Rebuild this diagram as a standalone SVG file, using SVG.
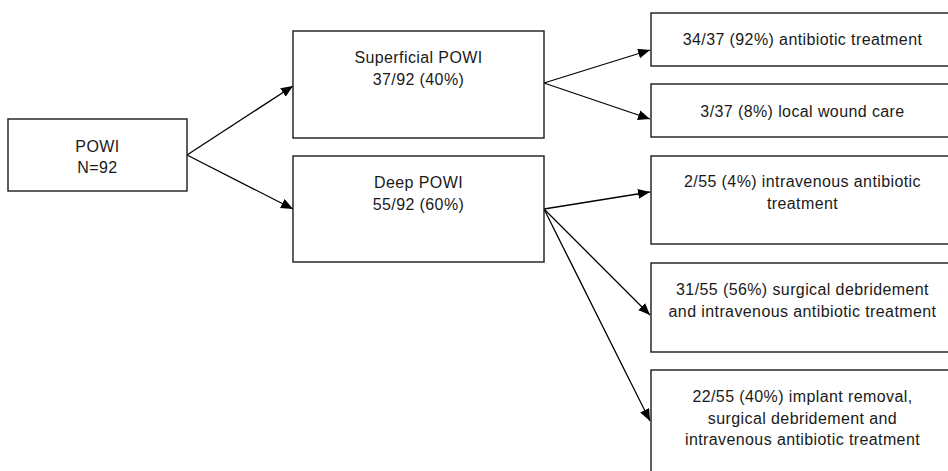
<svg xmlns="http://www.w3.org/2000/svg" width="948" height="471" viewBox="0 0 948 471">
<defs>
<marker id="arr" markerUnits="userSpaceOnUse" markerWidth="13" markerHeight="11" refX="12" refY="5" orient="auto">
<path d="M0,0 L12,5 L0,10 z" fill="#000"/>
</marker>
<style>
.box{fill:#fff;stroke:#1a1a1a;stroke-width:1.4}
.t{font-family:"Liberation Sans",Arial,sans-serif;font-size:16px;letter-spacing:0.4px;fill:#1a1a1a;text-anchor:middle}
.c{stroke:#000;stroke-width:1.3;fill:none;marker-end:url(#arr)}
</style>
</defs>
<rect width="948" height="471" fill="#fff"/>
<g id="connectors">
<line class="c" x1="187" y1="155" x2="293" y2="86"/>
<line class="c" x1="187" y1="155" x2="293" y2="209"/>
<line class="c" x1="544" y1="83" x2="650" y2="50"/>
<line class="c" x1="544" y1="83" x2="650" y2="119"/>
<line class="c" x1="544" y1="209" x2="650" y2="192"/>
<line class="c" x1="544" y1="209" x2="650" y2="315"/>
<line class="c" x1="544" y1="209" x2="650" y2="421"/>
</g>
<g id="powi">
<rect class="box" x="8" y="119" width="179" height="72"/>
<text class="t" x="97.5" y="152">POWI</text>
<text class="t" x="97.5" y="173">N=92</text>
</g>
<g id="superficial">
<rect class="box" x="293" y="31" width="251" height="107"/>
<text class="t" x="418.5" y="63">Superficial POWI</text>
<text class="t" x="418.5" y="85">37/92 (40%)</text>
</g>
<g id="deep">
<rect class="box" x="293" y="156" width="251" height="106"/>
<text class="t" x="418.5" y="188">Deep POWI</text>
<text class="t" x="418.5" y="210">55/92 (60%)</text>
</g>
<g id="antibiotic">
<rect class="box" x="651" y="13" width="303" height="53"/>
<text class="t" x="802.5" y="45">34/37 (92%) antibiotic treatment</text>
</g>
<g id="local">
<rect class="box" x="651" y="84" width="303" height="53"/>
<text class="t" x="802.5" y="116.5">3/37 (8%) local wound care</text>
</g>
<g id="iv">
<rect class="box" x="651" y="156" width="303" height="88"/>
<text class="t" x="802.5" y="187">2/55 (4%) intravenous antibiotic</text>
<text class="t" x="802.5" y="209">treatment</text>
</g>
<g id="debridement">
<rect class="box" x="651" y="263" width="303" height="89"/>
<text class="t" x="802.5" y="295">31/55 (56%) surgical debridement</text>
<text class="t" x="802.5" y="317">and intravenous antibiotic treatment</text>
</g>
<g id="removal">
<rect class="box" x="651" y="370" width="303" height="120"/>
<text class="t" x="802.5" y="402">22/55 (40%) implant removal,</text>
<text class="t" x="802.5" y="423.5">surgical debridement and</text>
<text class="t" x="802.5" y="445">intravenous antibiotic treatment</text>
</g>
</svg>
